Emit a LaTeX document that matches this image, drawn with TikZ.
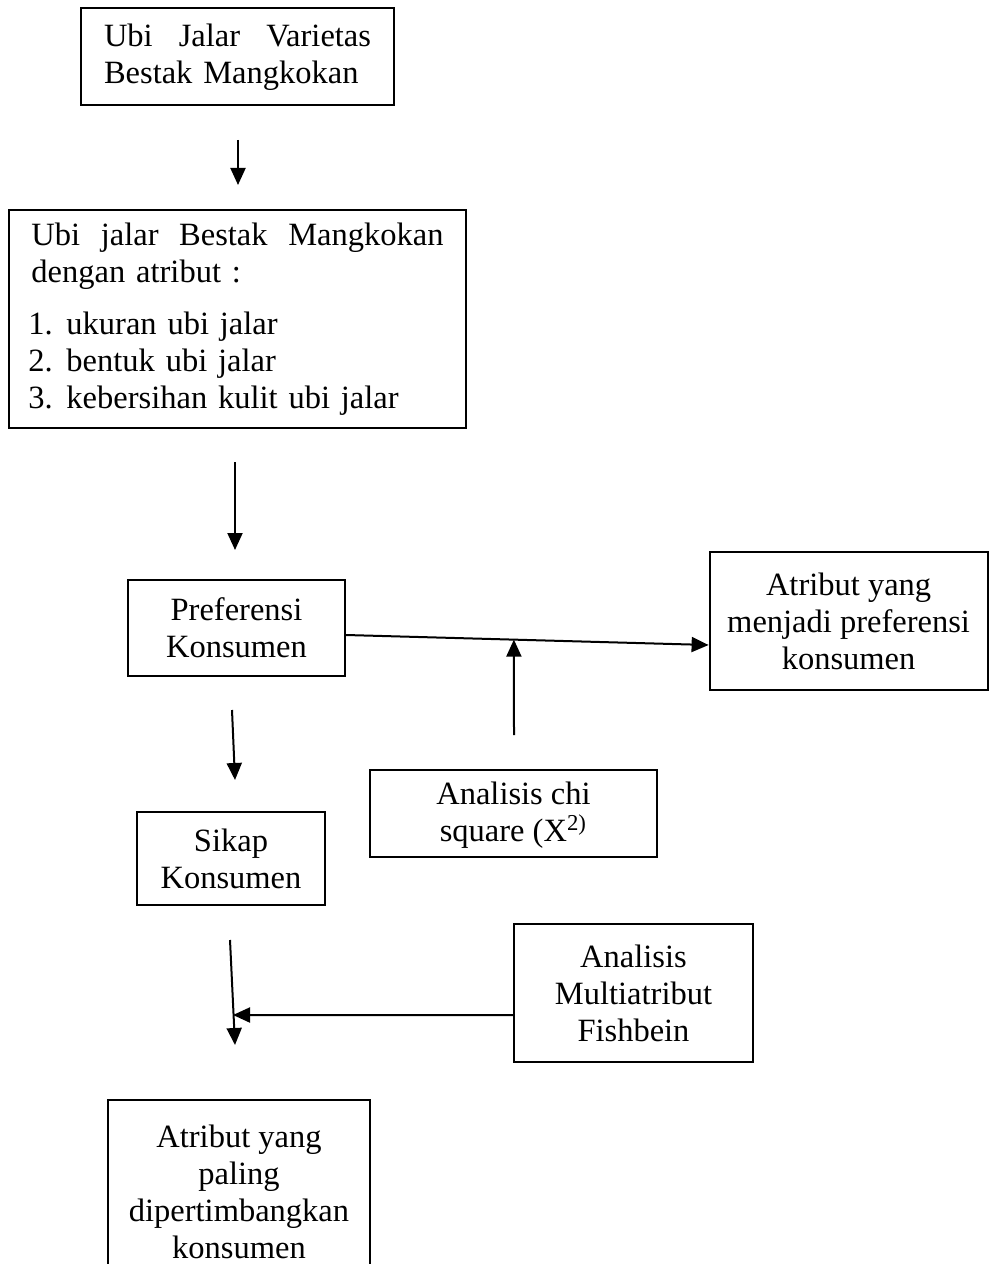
\documentclass[tikz,border=0pt]{standalone}
\usepackage{fontspec}
\setmainfont{Liberation Serif}
\usetikzlibrary{arrows.meta,calc}

\begin{document}
\begin{tikzpicture}[
    x=0.4pt, y=-0.4pt,
    box/.style={rectangle, draw, line width=0.8pt, inner sep=0pt, font=\fontsize{13}{14.8}\selectfont},
    arrow/.style={-{Triangle[length=6.8pt, width=6pt]}, line width=0.8pt}
]
    \clip (0,0) rectangle (989,1264);

    % Main column
    \node[box, minimum width=125.2pt, minimum height=38.8pt, text width=106.8pt] (ubi) at (237.5,57)
        {\noindent Ubi\hfill Jalar\hfill Varietas\\Bestak Mangkokan};
    \node[box, minimum width=182.8pt, minimum height=87.2pt, text width=164.8pt] (atribut) at (237.5,319)
        {\noindent Ubi\hfill jalar\hfill Bestak\hfill Mangkokan\\
         dengan atribut :\\[6pt]
         \hspace*{-1.2pt}\makebox[15.2pt][l]{1.}ukuran ubi jalar\\
         \hspace*{-1.2pt}\makebox[15.2pt][l]{2.}bentuk ubi jalar\\
         \hspace*{-1.2pt}\makebox[15.2pt][l]{3.}kebersihan kulit ubi jalar};
    \node[box, minimum width=86.8pt, minimum height=38.4pt, align=center] (pref) at (236.5,628)
        {Preferensi\\Konsumen};
    \node[box, minimum width=75.2pt, minimum height=37.2pt, align=center] (sikap) at (231,858.5)
        {Sikap\\Konsumen};
    \node[box, minimum width=104.8pt, minimum height=73.6pt, align=center] (hasil) at (239,1192)
        {Atribut yang\\paling\\dipertimbangkan\\konsumen};

    % Right side
    \node[box, minimum width=111.2pt, minimum height=55.2pt, align=center] (atr) at (848.6,621)
        {Atribut yang\\menjadi preferensi\\konsumen};
    \node[box, minimum width=114.8pt, minimum height=34.8pt] (chi) at (513.5,813.5)
        {\parbox[t][34.8pt][t]{110pt}{\centering\vspace*{4.6pt}Analisis chi\\square (X\textsuperscript{2)}}};
    \node[box, minimum width=95.6pt, minimum height=55.2pt, align=center] (fish) at (633.5,993)
        {Analisis\\Multiatribut\\Fishbein};

    % Free arrow ends
    \coordinate (ubi-out) at (238,140);
    \coordinate (atribut-in) at (238,185);
    \coordinate (atribut-out) at (235,462);
    \coordinate (pref-in) at (235,550);
    \coordinate (pref-out) at (232,710);
    \coordinate (sikap-in) at (235,780);
    \coordinate (sikap-out) at (230,940);
    \coordinate (hasil-in) at (235,1045);
    \coordinate (join) at (233,1015);
    \coordinate (chi-out) at (514,735);
    \coordinate (meet) at ($([yshift=-2.8pt]pref.east)!0.463!([yshift=-9.6pt]atr.west)$);

    % Arrows
    \draw[arrow] (ubi-out) -- (atribut-in);
    \draw[arrow] (atribut-out) -- (pref-in);
    \draw[arrow] (pref-out) -- (sikap-in);
    \draw[arrow] (sikap-out) -- (hasil-in);
    \draw[arrow] ([yshift=-2.8pt]pref.east) -- ([yshift=-9.6pt]atr.west);
    \draw[arrow] (chi-out) -- (meet);
    \draw[arrow] ([yshift=-8.8pt]fish.west) -- (join);

\end{tikzpicture}
\end{document}
